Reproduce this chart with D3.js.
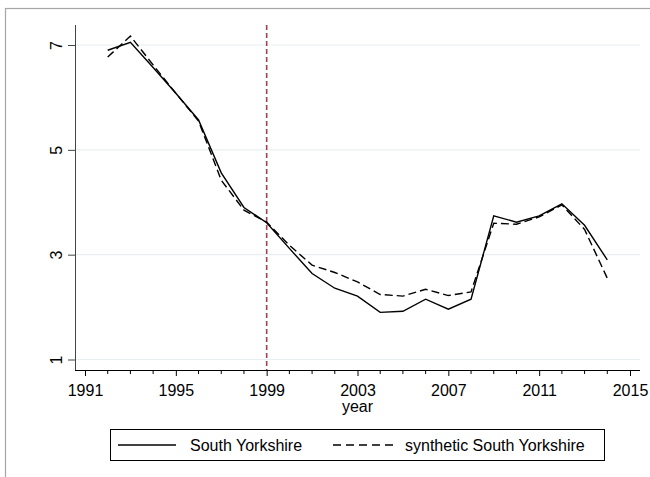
<!DOCTYPE html>
<html><head><meta charset="utf-8">
<script src="https://cdn.jsdelivr.net/npm/d3@7/dist/d3.min.js"></script>
<style>body{margin:0;background:#fff}svg{display:block}text{font-family:"Liberation Sans",Arial,sans-serif;fill:#000}</style>
</head><body><svg id="c" width="650" height="477"></svg>
<script>
const years = d3.range(1992, 2015);
const southYorkshire = [6.90,7.05,6.57,6.08,5.57,4.56,3.90,3.61,3.12,2.64,2.36,2.21,1.90,1.92,2.15,1.96,2.15,3.74,3.62,3.74,3.97,3.56,2.90];
const synthetic = [6.77,7.17,6.62,6.08,5.55,4.42,3.85,3.62,3.18,2.80,2.66,2.48,2.24,2.21,2.34,2.22,2.29,3.60,3.58,3.72,3.95,3.48,2.55];
const xTicks = [1991,1995,1999,2003,2007,2011,2015];
const yTicks = [1,3,5,7];
const treatYear = 1999;
const legendLabels = ["South Yorkshire","synthetic South Yorkshire"];

const svg = d3.select("#c");
svg.append("rect").attr("x",5.5).attr("y",8.5).attr("width",700).attr("height",500)
  .attr("fill","#fff").attr("stroke","#a6a6a6").attr("stroke-width",1.2);

const x = d3.scaleLinear().domain([1991,2015]).range([85,630]);
const y = d3.scaleLinear().domain([1,7]).range([359.5,45]);
const L = 75, R = 640, T = 25, B = 370;

// gridlines
svg.append("g").selectAll("line").data(yTicks).join("line")
  .attr("x1",L).attr("x2",R).attr("y1",d=>y(d)).attr("y2",d=>y(d))
  .attr("stroke","#e8eff1").attr("stroke-width",1.2);

// y axis
const ya = svg.append("g").attr("transform",`translate(${L},0)`)
  .call(d3.axisLeft(y).tickValues(yTicks).tickSize(7).tickFormat(d3.format("d")));
ya.select(".domain").attr("d",`M0.5,${T}V${B}`).attr("stroke","#444");
ya.selectAll(".tick line").attr("stroke","#444");
ya.selectAll(".tick text").attr("font-size",16).attr("text-anchor","middle")
  .attr("x",null).attr("dy",null).attr("transform","translate(-13,0) rotate(-90)")
  .attr("y",0);

// x axis
const xa = svg.append("g").attr("transform",`translate(0,${B})`)
  .call(d3.axisBottom(x).tickValues(xTicks).tickSize(6).tickFormat(d3.format("d")));
xa.select(".domain").attr("d",`M${L},0.5H${R}`).attr("stroke","#000");
xa.selectAll(".tick line").attr("stroke","#000");
xa.selectAll(".tick text").attr("font-size",16).attr("y",26).attr("dy",null);
// minor ticks
svg.append("g").selectAll("line").data(d3.range(1991,2016).filter(v=>!xTicks.includes(v))).join("line")
  .attr("x1",d=>x(d)).attr("x2",d=>x(d)).attr("y1",B).attr("y2",B+4)
  .attr("stroke","#000");
svg.append("text").attr("x",x(2003)).attr("y",412).attr("text-anchor","middle").attr("font-size",16).text("year");

// treatment line
svg.append("line").attr("x1",x(treatYear)).attr("x2",x(treatYear)).attr("y1",T).attr("y2",B)
  .attr("stroke","#a0444c").attr("stroke-width",1.6).attr("stroke-dasharray","5,3");

const line = d3.line().x((d,i)=>x(years[i])).y(d=>y(d));
svg.append("path").datum(southYorkshire).attr("d",line).attr("fill","none")
  .attr("stroke","#000").attr("stroke-width",1.4);
svg.append("path").datum(synthetic).attr("d",line).attr("fill","none")
  .attr("stroke","#000").attr("stroke-width",1.4).attr("stroke-dasharray","8,4");

// legend
const lg = svg.append("g");
lg.append("rect").attr("x",110.5).attr("y",429.5).attr("width",494).attr("height",31)
  .attr("fill","#fff").attr("stroke","#000").attr("stroke-width",1);
lg.append("line").attr("x1",118).attr("x2",176).attr("y1",445).attr("y2",445).attr("stroke","#000").attr("stroke-width",1.4);
lg.append("text").attr("x",190).attr("y",451).attr("font-size",16).text(legendLabels[0]);
lg.append("line").attr("x1",333).attr("x2",395).attr("y1",445).attr("y2",445).attr("stroke","#000").attr("stroke-width",1.4).attr("stroke-dasharray","8,5");
lg.append("text").attr("x",405).attr("y",451).attr("font-size",16).text(legendLabels[1]);
</script></body></html>
